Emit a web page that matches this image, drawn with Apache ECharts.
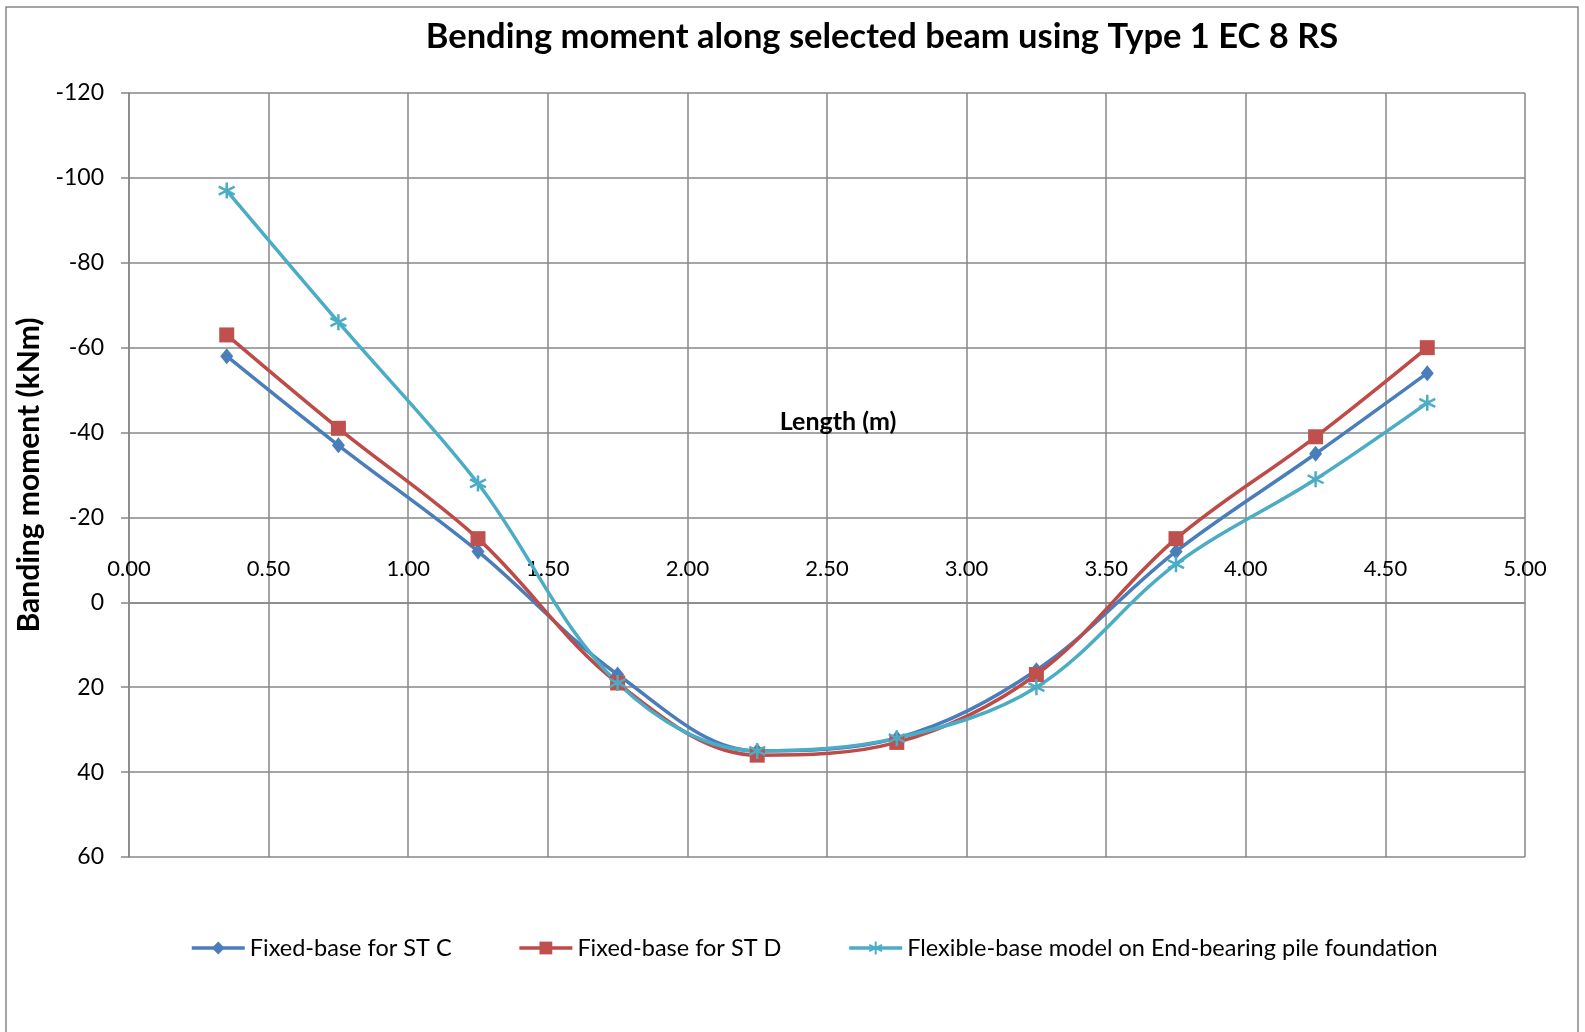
<!DOCTYPE html>
<html>
<head>
<meta charset="utf-8">
<script src="https://cdn.jsdelivr.net/npm/echarts@6/dist/echarts.min.js"></script>
<style>
  html, body { margin: 0; padding: 0; background: #fff; }
  #chart { width: 1585px; height: 1032px; }
</style>
</head>
<body>
<div id="chart"></div>
<script>
// beam positions (m)
const lengths = [0.35, 0.75, 1.25, 1.75, 2.25, 2.75, 3.25, 3.75, 4.25, 4.65];
// bending moments (kNm)
const fixedC = [-58, -37, -12, 17, 35, 32, 16, -12, -35, -54];
const fixedD = [-63, -41, -15, 19, 36, 33, 17, -15, -39, -60];
const flexible = [-97, -66, -28, 19, 35, 32, 20, -9, -29, -47];
const seriesNames = [
  'Fixed-base for ST C',
  'Fixed-base for ST D',
  'Flexible-base model on End-bearing pile foundation'
];

const gridColor = '#878787';
const font = 'Lato, "Open Sans", sans-serif';
const asterisk = 'path://M5,0L5,10M0.7,2.5L9.3,7.5M9.3,2.5L0.7,7.5';

// plot box, y axis runs -120 (top) .. 60 (bottom); the x axis sits on y = 0
const plotTop = 93, plotBottom = 175, plotHeight = 1032 - plotTop - plotBottom;
const zeroOffset = plotHeight * 120 / 180;

function pairs(ys) {
  return lengths.map((x, i) => [x, ys[i]]);
}

let myChart = echarts.init(document.getElementById('chart'));
myChart.setOption({
  animation: false,
  backgroundColor: '#fff',
  title: {
    text: 'Bending moment along selected beam using Type 1 EC 8 RS',
    left: 877,
    top: 14,
    textAlign: 'center',
    textStyle: { fontFamily: font, fontSize: 34.5, fontWeight: 'bold', color: '#000' }
  },
  graphic: [{
    type: 'rect',
    shape: { x: 6, y: 7, width: 1572, height: 1040 },
    style: { fill: 'none', stroke: gridColor, lineWidth: 1.5 },
    silent: true
  }],
  legend: {
    left: 190,
    top: 936,
    padding: 0,
    itemWidth: 53,
    itemHeight: 16,
    itemGap: 66,
    lineStyle: { width: 3.5 },
    textStyle: { fontFamily: font, fontSize: 23.5, color: '#000' },
    data: seriesNames
  },
  grid: { left: 129, right: 60, top: plotTop, bottom: plotBottom, outerBoundsMode: 'none' },
  xAxis: {
    type: 'value',
    min: 0,
    max: 5,
    interval: 0.5,
    position: 'top',
    offset: -zeroOffset,
    name: 'Length (m)',
    nameLocation: 'middle',
    nameGap: 168,
    nameTextStyle: { fontFamily: font, fontSize: 25, fontWeight: 'bold', color: '#000', padding: [0, 0, 0, 22] },
    axisLine: { onZero: false, lineStyle: { color: gridColor, width: 1.5 } },
    axisTick: { show: false },
    axisLabel: {
      margin: 22,
      fontFamily: font, fontSize: 22, color: '#000',
      formatter: v => v.toFixed(2)
    },
    splitLine: { show: true, lineStyle: { color: gridColor, width: 1.5 } }
  },
  yAxis: {
    type: 'value',
    inverse: true,
    min: -120,
    max: 60,
    interval: 20,
    name: 'Banding moment (kNm)',
    nameLocation: 'middle',
    nameGap: 83,
    nameTextStyle: { fontFamily: font, fontSize: 30, fontWeight: 'bold', color: '#000' },
    axisLine: { show: true, lineStyle: { color: gridColor, width: 1.5 } },
    axisTick: { show: true, length: 8, lineStyle: { color: gridColor, width: 1.5 } },
    axisLabel: { margin: 25, fontFamily: font, fontSize: 23, color: '#000' },
    splitLine: { show: true, lineStyle: { color: gridColor, width: 1.5 } }
  },
  series: [
    {
      name: seriesNames[0],
      type: 'line',
      smooth: 0.35,
      data: pairs(fixedC),
      symbol: 'diamond',
      symbolSize: [13, 16],
      lineStyle: { color: '#4A7EBB', width: 3.5 },
      itemStyle: { color: '#4A7EBB' }
    },
    {
      name: seriesNames[1],
      type: 'line',
      smooth: 0.35,
      data: pairs(fixedD),
      symbol: 'rect',
      symbolSize: 15,
      lineStyle: { color: '#BE4B48', width: 3.5 },
      itemStyle: { color: '#C0504D' }
    },
    {
      name: seriesNames[2],
      type: 'line',
      smooth: 0.35,
      data: pairs(flexible),
      symbol: asterisk,
      symbolSize: 16,
      lineStyle: { color: '#4BACC6', width: 3.5 },
      itemStyle: { color: 'none', borderColor: '#4BACC6', borderWidth: 2.5 }
    }
  ]
});
window.addEventListener('resize', function() {
  myChart.resize();
});
</script>
</body>
</html>
